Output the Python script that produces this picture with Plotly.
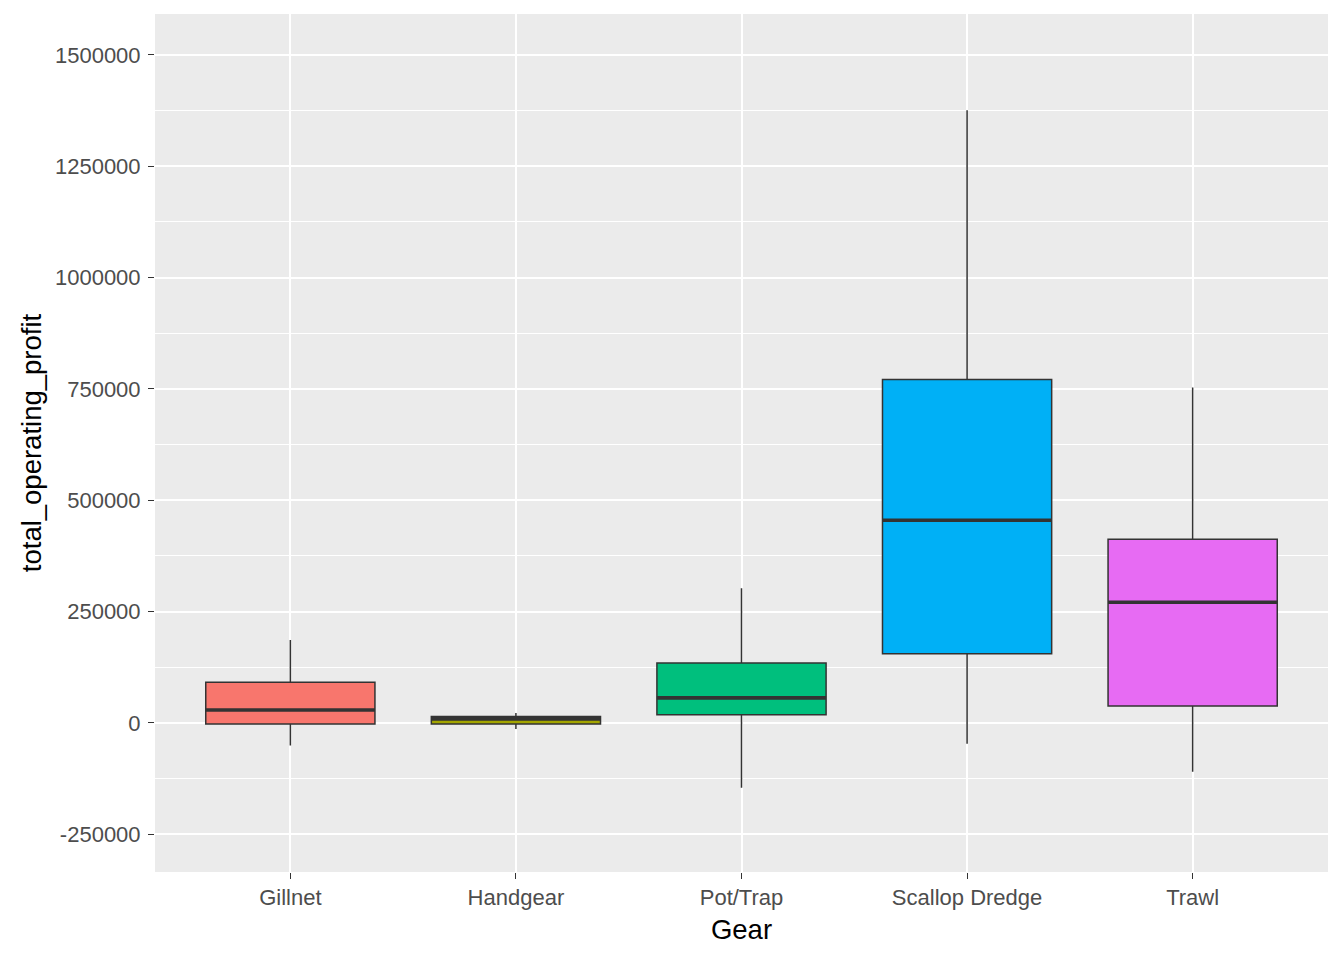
import plotly.graph_objects as go

gears = ["Gillnet", "Handgear", "Pot/Trap", "Scallop Dredge", "Trawl"]
q1 = [-2500, -2500, 18000, 155000, 38000]
median = [29000, 9000, 56000, 455000, 271000]
q3 = [91000, 14000, 134500, 771000, 412500]
lower_whisker = [-51000, -14000, -146000, -47000, -110000]
upper_whisker = [186000, 22000, 302000, 1376000, 753000]
colors = ["#F8766D", "#A3A500", "#00BF7D", "#00B0F6", "#E76BF3"]
y_ticks = [-250000, 0, 250000, 500000, 750000, 1000000, 1250000, 1500000]
box_width = 0.75

fig = go.Figure()
for i, g in enumerate(gears):
    fig.add_trace(go.Box(
        x=[i], q1=[q1[i]], median=[median[i]], q3=[q3[i]],
        lowerfence=[lower_whisker[i]], upperfence=[upper_whisker[i]],
        fillcolor=colors[i], line=dict(color="#333333", width=1.5),
        width=box_width, whiskerwidth=0, boxpoints=False,
        showlegend=False, name=g, hoverinfo="skip",
    ))
    fig.add_trace(go.Scatter(
        x=[i - box_width / 2, i + box_width / 2], y=[median[i], median[i]],
        mode="lines", line=dict(color="#333333", width=3.6),
        showlegend=False, hoverinfo="skip",
    ))

font = "Liberation Sans, Arial, sans-serif"
fig.update_layout(
    width=1344, height=960,
    margin=dict(l=147, r=24, t=6, b=96),
    paper_bgcolor="white", plot_bgcolor="#EBEBEB",
    font=dict(family=font, color="#4D4D4D", size=22),
)
fig.update_xaxes(
    range=[-0.6, 4.6], tickmode="array", tickvals=list(range(len(gears))), ticktext=gears,
    showgrid=True, gridcolor="white", gridwidth=2.2, zeroline=False,
    ticks="outside", ticklen=6, tickwidth=1.1, tickcolor="#333333",
    tickfont=dict(size=22, color="#4D4D4D"),
    title=dict(text="Gear", font=dict(size=27.5, color="black"), standoff=10),
    showline=False,
)
fig.update_yaxes(
    range=[-335000, 1592000], tickmode="array", tickvals=y_ticks,
    ticktext=[str(v) for v in y_ticks],
    showgrid=True, gridcolor="white", gridwidth=2.2, zeroline=False,
    minor=dict(dtick=125000, tick0=125000, showgrid=True, gridcolor="white", gridwidth=1.1, ticks=""),
    ticks="outside", ticklen=6, tickwidth=1.1, tickcolor="#333333",
    tickfont=dict(size=22, color="#4D4D4D"), ticklabelstandoff=3,
    title=dict(text="total_operating_profit", font=dict(size=27.5, color="black"), standoff=5),
    showline=False,
)
fig.write_html("out.html")
